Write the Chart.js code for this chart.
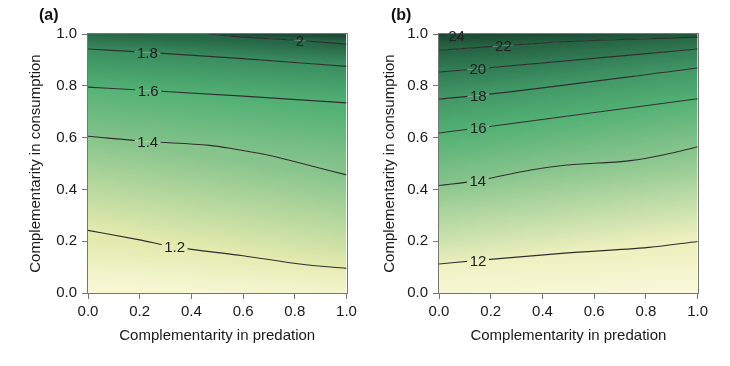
<!DOCTYPE html>
<html>
<head>
<meta charset="utf-8">
<script src="https://cdn.jsdelivr.net/npm/chart.js@4.4.1/dist/chart.umd.min.js"></script>
<style>
  html, body { margin: 0; padding: 0; background: #fff; }
  #wrap { position: relative; width: 730px; height: 366px; }
  .panel { position: absolute; top: 0; width: 365px; height: 366px; }
</style>
</head>
<body>
<div id="wrap">
  <div class="panel" style="left:0"><canvas id="chartA" width="365" height="366"></canvas></div>
  <div class="panel" style="left:365px"><canvas id="chartB" width="365" height="366"></canvas></div>
</div>
<script>
// ---- values (x = predation, y = consumption) ----
var axisTicks = [0, 0.2, 0.4, 0.6, 0.8, 1.0];

// panel (a) contours
var a12x = [0, 0.2, 0.335, 0.6, 0.82, 1];
var a12y = [0.242, 0.205, 0.178, 0.144, 0.112, 0.095];
var a14x = [0, 0.231, 0.47, 0.56, 0.69, 0.82, 1];
var a14y = [0.605, 0.585, 0.57, 0.557, 0.534, 0.502, 0.456];
var a16x = [0, 0.233, 0.6, 1];
var a16y = [0.795, 0.782, 0.76, 0.734];
var a18x = [0, 0.23, 0.6, 1];
var a18y = [0.942, 0.929, 0.905, 0.875];
var a20x = [0.47, 0.56, 0.82, 1];
var a20y = [1.0, 0.991, 0.975, 0.961];

// panel (b) contours
var b12x = [0, 0.151, 0.486, 0.81, 1];
var b12y = [0.112, 0.126, 0.154, 0.176, 0.199];
var b14x = [0, 0.15, 0.36, 0.486, 0.74, 0.87, 1];
var b14y = [0.415, 0.434, 0.476, 0.493, 0.511, 0.534, 0.565];
var b16x = [0, 0.152, 1];
var b16y = [0.618, 0.637, 0.75];
var b18x = [0, 0.152, 1];
var b18y = [0.749, 0.763, 0.869];
var b20x = [0, 0.15, 1];
var b20y = [0.853, 0.866, 0.942];
var b22x = [0, 0.249, 0.5, 1];
var b22y = [0.937, 0.955, 0.971, 0.988];
var b24x = [0, 0.068, 0.12];
var b24y = [0.996, 0.997, 1.0];

// contour label positions
var aLabels = ['1.2', '1.4', '1.6', '1.8', '2'];
var aLabelX = [0.335, 0.231, 0.233, 0.23, 0.82];
var aLabelY = [0.178, 0.585, 0.782, 0.929, 0.975];
var bLabels = ['12', '14', '16', '18', '20', '22', '24'];
var bLabelX = [0.151, 0.15, 0.152, 0.152, 0.15, 0.249, 0.068];
var bLabelY = [0.126, 0.434, 0.637, 0.763, 0.866, 0.955, 0.994];

// band colours: bottom edge, each filled contour, top edge
var aColors = ['#f7f7d4', '#e3eaae', '#86c48c', '#52b074', '#3a8d5f', '#276646', '#1c4c35'];
var bColors = ['#f8f8d8', '#eef0be', '#86c48c', '#52b074', '#429766', '#327c55', '#266443', '#1d4c35'];

var FONT = "'Liberation Sans', Arial, sans-serif";
var TXT = '#1a1a1a';
var AXIS = '#777777';

function pts(xs, ys) {
  return xs.map(function(x, i) { return { x: x, y: ys[i] }; });
}

// gradient across a band, tilted with the mean direction of its two edges
function bandFill(lo, up, c0, c1) {
  return function(ctx) {
    var chart = ctx.chart;
    if (!chart.chartArea) return c0;
    var sx = chart.scales.x, sy = chart.scales.y;
    function px(p) { return [sx.getPixelForValue(p.x), sy.getPixelForValue(p.y)]; }
    var p0 = px(lo[0]), p1 = px(lo[lo.length - 1]);
    var q0 = px(up[0]), q1 = px(up[up.length - 1]);
    var dx = (p1[0] - p0[0]) + (q1[0] - q0[0]);
    var dy = (p1[1] - p0[1]) + (q1[1] - q0[1]);
    var len = Math.sqrt(dx * dx + dy * dy);
    var nx = -dy / len, ny = dx / len;
    var s = [(p0[0] + p1[0]) / 2, (p0[1] + p1[1]) / 2];
    var m = [(q0[0] + q1[0]) / 2, (q0[1] + q1[1]) / 2];
    var d = (m[0] - s[0]) * nx + (m[1] - s[1]) * ny;
    var g = chart.ctx.createLinearGradient(s[0], s[1], s[0] + nx * d, s[1] + ny * d);
    g.addColorStop(0, c0);
    g.addColorStop(1, c1);
    return g;
  };
}

var contourLabels = {
  id: 'contourLabels',
  beforeDatasetDraw: function(chart, args, opts) {
    var ds = chart.data.datasets[args.index];
    if (!ds.isContour) return;
    var ctx = chart.ctx;
    ctx.save();
    ctx.font = '15px ' + FONT;
    ctx.beginPath();
    ctx.rect(0, 0, chart.width, chart.height);
    opts.text.forEach(function(t, i) {
      var x = chart.scales.x.getPixelForValue(opts.x[i]);
      var y = chart.scales.y.getPixelForValue(opts.y[i]);
      var w = ctx.measureText(t).width + 5;
      ctx.rect(x - w / 2, y - 7, w, 14);
    });
    ctx.clip('evenodd');
  },
  afterDatasetDraw: function(chart, args) {
    if (chart.data.datasets[args.index].isContour) chart.ctx.restore();
  },
  afterDatasetsDraw: function(chart, args, opts) {
    var ctx = chart.ctx, a = chart.chartArea;
    ctx.save();
    ctx.strokeStyle = AXIS;
    ctx.lineWidth = 1;
    ctx.strokeRect(Math.round(a.left) - 0.5, Math.round(a.top) - 0.5,
      Math.round(a.right - a.left) + 1, Math.round(a.bottom - a.top) + 1);
    ctx.fillStyle = '#222';
    ctx.font = '15px ' + FONT;
    ctx.textAlign = 'center';
    ctx.textBaseline = 'middle';
    opts.text.forEach(function(t, i) {
      ctx.fillText(t, chart.scales.x.getPixelForValue(opts.x[i]), chart.scales.y.getPixelForValue(opts.y[i]) + 1);
    });
    ctx.fillStyle = '#111';
    ctx.font = 'bold 16px ' + FONT;
    ctx.textAlign = 'left';
    ctx.fillText(opts.tag, opts.tagX, 16);
    ctx.restore();
  }
};

function buildPanel(id, bands, extraLines, colors, labels, pad, yWidth, tag, tagX) {
  var datasets = [];
  var bottom = pts([0, 1], [0, 0]);
  var top = pts([0, 1], [1, 1]);
  var edges = bands.map(function(b) {
    var p = pts(b[0], b[1]);
    if (p[0].x > 0) p.unshift({ x: 0, y: 1 }); // contour leaves through the top edge
    return p;
  });

  // filled bands (drawn first, under the lines)
  edges.forEach(function(e, i) {
    datasets.push({
      order: 1,
      data: e,
      fill: i === 0 ? 'start' : i - 1,
      backgroundColor: bandFill(i === 0 ? bottom : edges[i - 1], e, colors[i], colors[i + 1]),
      borderWidth: 0, pointRadius: 0, cubicInterpolationMode: 'monotone'
    });
  });
  datasets.push({
    order: 1,
    data: top,
    fill: edges.length - 1,
    backgroundColor: bandFill(edges[edges.length - 1], top, colors[edges.length], colors[edges.length + 1]),
    borderWidth: 0, pointRadius: 0
  });

  // contour lines
  bands.concat(extraLines).forEach(function(b) {
    datasets.push({
      order: 0,
      isContour: true,
      data: pts(b[0], b[1]),
      fill: false,
      borderColor: '#2e2e2e', borderWidth: 1.1,
      pointRadius: 0, cubicInterpolationMode: 'monotone'
    });
  });

  var tickFont = { family: FONT, size: 15 };
  function setTicks(s) { s.ticks = axisTicks.map(function(v) { return { value: v }; }); }

  return new Chart(document.getElementById(id), {
    type: 'line',
    data: { datasets: datasets },
    options: {
      responsive: false,
      animation: false,
      layout: { padding: pad },
      plugins: {
        legend: { display: false },
        tooltip: { enabled: false },
        contourLabels: { text: labels[0], x: labels[1], y: labels[2], tag: tag, tagX: tagX }
      },
      scales: {
        x: {
          type: 'linear', min: 0, max: 1,
          afterBuildTicks: setTicks,
          afterFit: function(s) { s.height = 55.5; },
          ticks: { color: TXT, font: tickFont, padding: 4, maxRotation: 0,
            callback: function(v) { return v.toFixed(1); } },
          grid: { drawOnChartArea: false, tickLength: 6, tickColor: AXIS },
          border: { color: AXIS },
          title: { display: true, text: 'Complementarity in predation', color: TXT,
            font: tickFont, padding: { top: 0, bottom: 4 } }
        },
        y: {
          type: 'linear', min: 0, max: 1,
          afterBuildTicks: setTicks,
          afterFit: function(s) { s.width = yWidth; },
          ticks: { color: TXT, font: tickFont, padding: 5,
            callback: function(v) { return v.toFixed(1); } },
          grid: { drawOnChartArea: false, tickLength: 6, tickColor: AXIS },
          border: { color: AXIS },
          title: { display: true, text: 'Complementarity in consumption', color: TXT,
            font: tickFont, padding: { top: 4, bottom: 0 } }
        }
      }
    },
    plugins: [contourLabels]
  });
}

buildPanel('chartA',
  [[a12x, a12y], [a14x, a14y], [a16x, a16y], [a18x, a18y], [a20x, a20y]],
  [], aColors, [aLabels, aLabelX, aLabelY],
  { left: 23, right: 18.5, top: 34, bottom: 17.5 }, 65, '(a)', 39);

buildPanel('chartB',
  [[b12x, b12y], [b14x, b14y], [b16x, b16y], [b18x, b18y], [b20x, b20y], [b22x, b22y]],
  [[b24x, b24y]], bColors, [bLabels, bLabelX, bLabelY],
  { left: 12, right: 32.3, top: 34, bottom: 17.5 }, 62, '(b)', 26);
</script>
</body>
</html>
